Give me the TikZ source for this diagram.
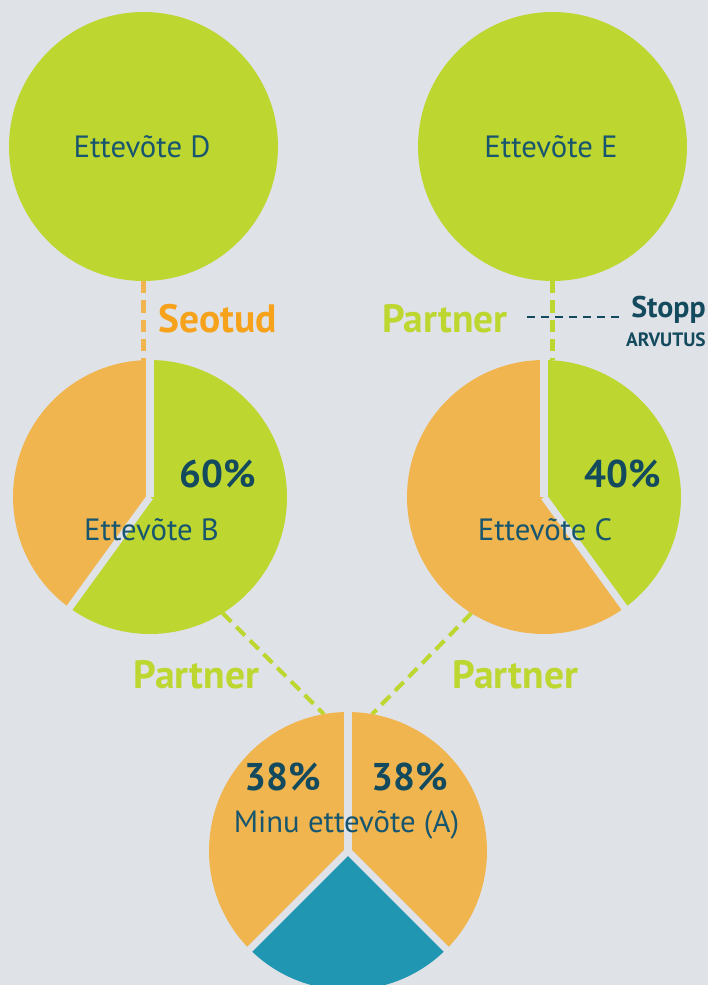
\documentclass[tikz,border=0pt]{standalone}
\usepackage{fontspec}
\setmainfont{PT Sans}

\definecolor{bgc}{RGB}{223,226,230}
\definecolor{limec}{RGB}{190,214,48}
\definecolor{orangec}{RGB}{240,181,78}
\definecolor{seotudc}{RGB}{247,162,27}
\definecolor{bluec}{RGB}{32,150,179}
\definecolor{namec}{RGB}{23,86,110}
\definecolor{pctc}{RGB}{19,74,94}

\tikzset{
  firm/.style={circle, fill=limec, minimum size=5.38cm, inner sep=0, outer sep=0},
  pie/.style={circle, minimum size=#1, inner sep=0, outer sep=0},
  firmname/.style={text=namec, font=\fontsize{17.5}{20}\selectfont, anchor=base},
  pct/.style={text=pctc, font=\fontsize{22}{26}\selectfont\bfseries, anchor=base},
  rel/.style={font=\fontsize{22.5}{26}\selectfont\bfseries, anchor=base},
  link/.style={line width=2.3pt, dash pattern=on 7pt off 4pt},
  gap/.style={bgc, line width=4pt, shorten >=-3pt}
}

\begin{document}
\begin{tikzpicture}[x=0.02cm, y=0.02cm]

\fill[bgc] (0,0) rectangle (708,985);
\clip (0,0) rectangle (708,985);

% top firms
\node[firm] (D) at (143.5,838.5) {};
\node[firm] (E) at (552.5,838.5) {};
\node[firmname] (nD) at (142,827) {Ettevõte D};
\node[firmname] (nE) at (551,827) {Ettevõte E};

% pie anchors
\node[pie=5.48cm] (pB) at (150,488) {};
\node[pie=5.48cm] (pC) at (544,488) {};
\node[pie=5.56cm] (pA) at (348,134) {};

% links
\draw[link, orangec] (D.south) -- (D.south |- pB.north);
\draw[link, limec] (E.south) -- (E.south |- pC.north);
\draw[link, limec] (pB.-58) -- (pA.100);
\draw[link, limec] (pC.238) -- (pA.80);

% pie B
\fill[orangec] (pB.center) -- (pB.90) arc[start angle=90, end angle=234, radius=2.74cm] -- cycle;
\fill[limec] (pB.center) -- (pB.234) arc[start angle=234, end angle=450, radius=2.74cm] -- cycle;
\draw[gap] (pB.center) -- (pB.90);
\draw[gap] (pB.center) -- (pB.234);

% pie C
\fill[limec] (pC.center) -- (pC.-54) arc[start angle=-54, end angle=90, radius=2.74cm] -- cycle;
\fill[orangec] (pC.center) -- (pC.90) arc[start angle=90, end angle=306, radius=2.74cm] -- cycle;
\draw[gap] (pC.center) -- (pC.90);
\draw[gap] (pC.center) -- (pC.-54);

% pie A
\fill[orangec] (pA.center) -- (pA.90) arc[start angle=90, end angle=225, radius=2.78cm] -- cycle;
\fill[bluec] (pA.center) -- (pA.225) arc[start angle=225, end angle=315, radius=2.78cm] -- cycle;
\fill[orangec] (pA.center) -- (pA.315) arc[start angle=315, end angle=450, radius=2.78cm] -- cycle;
\draw[gap] (pA.center) -- (pA.90);
\draw[gap] (pA.center) -- (pA.225);
\draw[gap] (pA.center) -- (pA.315);

% texts in pies
\node[pct] (pct60) at (218,497) {60\%};
\node[firmname] (nB) at (151.5,444) {Ettevõte B};
\node[pct] (pct40) at (623,497) {40\%};
\node[firmname] (nC) at (545,444) {Ettevõte C};
\node[pct] (pctAl) at (283,194) {38\%};
\node[pct] (pctAr) at (410,194) {38\%};
\node[firmname] (nA) at (346.5,152) {Minu ettevõte (A)};

% relations
\node[rel, seotudc] (seotud) at (218,652) {Seotud};
\node[rel, limec] (partE) at (445,652) {Partner};
\node[rel, limec] (partB) at (196.5,296) {Partner};
\node[rel, limec] (partC) at (515.5,296) {Partner};

% stop
\node[anchor=base east, text=pctc, font=\fontsize{17}{20}\selectfont\bfseries, inner xsep=0pt] (stopp) at (706,667) {Stopp};
\node[anchor=base east, text=pctc, font=\fontsize{11}{13}\selectfont\bfseries, inner xsep=0pt] (arv) at (706,638) {ARVUTUS};
\coordinate (cut) at (527,668);
\draw[pctc, line width=1.1pt, dash pattern=on 4.5pt off 3.5pt, shorten >=6pt] (cut) -- (cut -| stopp.west);

\end{tikzpicture}
\end{document}
